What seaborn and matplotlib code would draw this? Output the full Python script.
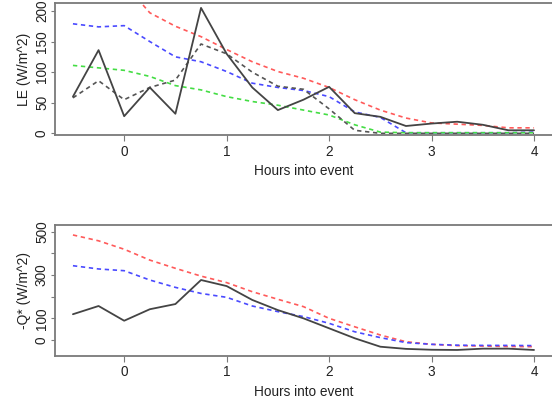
import numpy as np
import pandas as pd
import matplotlib
matplotlib.use("Agg")
import matplotlib.pyplot as plt
import seaborn as sns

sns.set_theme(style="white")
plt.rcParams['font.family'] = ['Liberation Sans', 'DejaVu Sans']

hours = [-0.5, -0.25, 0, 0.25, 0.5, 0.75, 1.0, 1.25, 1.5, 1.75, 2.0,
         2.25, 2.5, 2.75, 3.0, 3.25, 3.5, 3.75, 4.0]

# Top panel: LE (W/m^2)
le_obs = [60, 136, 28, 75, 32, 205, 130, 75, 38, 55, 76, 33, 27, 12, 16, 19, 14, 5, 5]
le_black_dash = [58, 86, 55, 75, 87, 146, 130, 100, 77, 72, 40, 5, 0, 0, 0, 0, 0, 0, 0]
le_red = [300, 275, 245, 197, 175, 158, 137, 117, 101, 90, 75, 55, 38, 25, 17, 15, 13, 9, 9]
le_blue = [179, 174, 176, 150, 125, 117, 101, 82, 75, 70, 60, 35, 26, 1, 1, 1, 1, 1, 2]
le_green = [111, 107, 103, 93, 78, 71, 60, 52, 46, 38, 30, 14, 2, 1, 1, 1, 1, 1, 1]

# Bottom panel: -Q* (W/m^2)
q_obs = [119, 157, 89, 142, 166, 277, 249, 185, 138, 100, 54, 8, -31, -41, -45, -46, -40, -40, -46]
q_red = [485, 458, 419, 369, 331, 295, 265, 223, 188, 154, 100, 61, 23, -8, -20, -26, -28, -30, -31]
q_blue = [343, 328, 320, 277, 243, 215, 197, 157, 131, 108, 77, 38, 11, -12, -20, -24, -25, -25, -26]

le_yticks = [0, 50, 100, 150, 200]
le_yticklabels = ["0", "50", "100", "150", "200"]
q_yticks = [0, 100, 200, 300, 400, 500]
q_yticklabels = ["0", "100", "", "300", "", "500"]
xticks = [0, 1, 2, 3, 4]
xticklabels = ["0", "1", "2", "3", "4"]

W, H = 552, 404
fig = plt.figure(figsize=(W / 100, H / 100), dpi=100)

def px_axes(left, top, right, bottom):
    return fig.add_axes([left / W, 1 - bottom / H, (right - left) / W, (bottom - top) / H])

ax1 = px_axes(54.5, 3, 553.5, 135)
ax2 = px_axes(54.5, 225, 553.5, 355.7)

dash = (2.6, 2.2)
spine_col = "#7a7a7a"

def draw(ax, y, color, dashed, lw=1.2):
    sns.lineplot(x=hours, y=y, ax=ax, color=color, linewidth=lw,
                 estimator=None, sort=False)
    if dashed:
        ax.lines[-1].set_dashes(dash)

draw(ax1, le_red, "#ff5a5a", True)
draw(ax1, le_blue, "#4a4aff", True)
draw(ax1, le_green, "#44dd44", True)
draw(ax1, le_black_dash, "#555555", True)
draw(ax1, le_obs, "#444444", False, 1.3)

draw(ax2, q_red, "#ff5a5a", True)
draw(ax2, q_blue, "#4a4aff", True)
draw(ax2, q_obs, "#444444", False, 1.3)

for ax, ylim, yt, ytl, ylab in [
    (ax1, (-2.7, 213), le_yticks, le_yticklabels, "LE (W/m^2)"),
    (ax2, (-72.5, 531), q_yticks, q_yticklabels, "-Q* (W/m^2)"),
]:
    ax.set_xlim(-0.68, 4.19)
    ax.set_ylim(*ylim)
    ax.set_xticks(xticks)
    ax.set_xticklabels(xticklabels)
    ax.set_yticks(yt)
    ax.set_yticklabels(ytl, rotation=90, va="center")
    ax.set_xlabel("Hours into event", fontsize=9.8, labelpad=4)
    ax.set_ylabel(ylab, fontsize=10, labelpad=3)
    ax.tick_params(axis="x", direction="out", length=4, width=0.8,
                   color=spine_col, labelsize=9.8, pad=3, labelcolor="#222222")
    ax.tick_params(axis="y", direction="out", length=3, width=0.8,
                   color=spine_col, labelsize=9.8, pad=1, labelcolor="#222222")
    ax.tick_params(left=True, bottom=True)
    for s in ax.spines.values():
        s.set_visible(True)
        s.set_color(spine_col)
        s.set_linewidth(1.3)
    ax.xaxis.label.set_color("#222222")
    ax.yaxis.label.set_color("#222222")

fig.savefig("out.png", dpi=100)
